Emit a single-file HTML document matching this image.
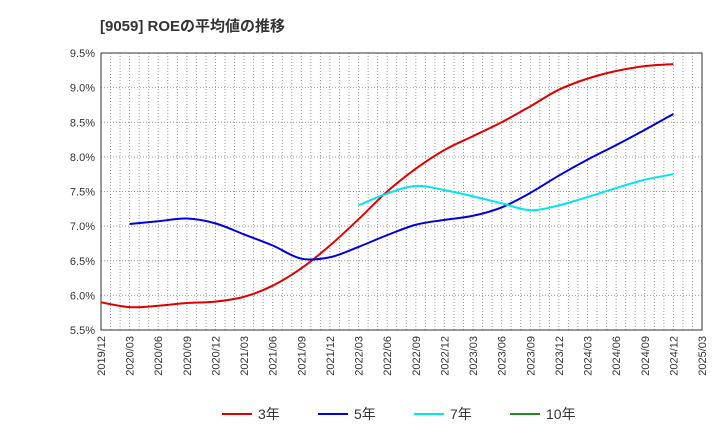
<!DOCTYPE html>
<html><head><meta charset="utf-8"><style>
body{margin:0;background:#fff;font-family:"Liberation Sans","Noto Sans CJK JP",sans-serif}
</style></head><body>
<svg id="c" width="720" height="440" xmlns="http://www.w3.org/2000/svg" font-family="Liberation Sans, Noto Sans CJK JP, sans-serif">
<text x="100" y="31" font-size="15" font-weight="bold" fill="#333">[9059]  ROEの平均値の推移</text>
</svg>
<script>
const xLabels=["2019/12","2020/03","2020/06","2020/09","2020/12","2021/03","2021/06","2021/09","2021/12","2022/03","2022/06","2022/09","2022/12","2023/03","2023/06","2023/09","2023/12","2024/03","2024/06","2024/09","2024/12","2025/03"];
const yTicks=[5.5,6.0,6.5,7.0,7.5,8.0,8.5,9.0,9.5];
const roe3=[5.9,5.83,5.85,5.89,5.91,5.98,6.14,6.39,6.72,7.1,7.5,7.83,8.1,8.3,8.5,8.73,8.97,9.13,9.24,9.31,9.34];
const roe5=[null,7.03,7.07,7.11,7.04,6.88,6.72,6.53,6.55,6.7,6.87,7.02,7.09,7.15,7.27,7.48,7.73,7.96,8.17,8.39,8.62];
const roe7=[null,null,null,null,null,null,null,null,null,7.3,7.47,7.58,7.52,7.43,7.33,7.23,7.3,7.42,7.55,7.67,7.75];
const svg=document.getElementById('c');const NS="http://www.w3.org/2000/svg";
const L=101,R=702,T=53,B=330;
const xs=i=>L+(R-L)*i/(xLabels.length-1);
const ys=v=>B-(v-5.5)/(9.5-5.5)*(B-T);
function mk(t,a,p){const e=document.createElementNS(NS,t);for(const k in a)e.setAttribute(k,a[k]);(p||svg).appendChild(e);return e;}
const g=mk('g',{});


for(let m=1;m<63;m++){const x=L+(R-L)*m/63;mk('line',{x1:x,x2:x,y1:T,y2:B,stroke:'#999','stroke-dasharray':'1,2','stroke-width':1},g);}
yTicks.forEach(v=>{const y=ys(v);if(v>5.5&&v<9.5)mk('line',{x1:L,x2:R,y1:y,y2:y,stroke:'#999','stroke-dasharray':'1,2'},g);
const t=mk('text',{x:L-6,y:y+4,'text-anchor':'end','font-size':11,fill:'#333'});t.textContent=v.toFixed(1)+'%';

});
const fr=mk('rect',{x:L,y:T,width:R-L,height:B-T,fill:'none',stroke:'#333'});


xLabels.forEach((s,i)=>{const x=xs(i);const t=mk('text',{x:x+4,y:B+6,'text-anchor':'end','font-size':11,fill:'#333',transform:`rotate(-90 ${x+4} ${B+6})`});t.textContent=s;

});
function path(arr){const p=[];arr.forEach((v,i)=>{if(v!=null)p.push([xs(i),ys(v)]);});
let d=`M${p[0][0]},${p[0][1]}`;for(let i=0;i<p.length-1;i++){const p0=p[i-1]||p[i],p1=p[i],p2=p[i+1],p3=p[i+2]||p2;
d+=`C${p1[0]+(p2[0]-p0[0])/6},${p1[1]+(p2[1]-p0[1])/6} ${p2[0]-(p3[0]-p1[0])/6},${p2[1]-(p3[1]-p1[1])/6} ${p2[0]},${p2[1]}`;}return d;}
[[roe3,'#e00000','line-3yr'],[roe5,'#0000dd','line-5yr'],[roe7,'#00e5ee','line-7yr']].forEach(([a,c,n])=>{const e=mk('path',{d:path(a),fill:'none',stroke:c,'stroke-width':2});

});
[['3年','#e00000',222],['5年','#0000dd',318],['7年','#00e5ee',414],['10年','#228b22',510]].forEach(([s,c,x])=>{const lg=mk('g',{});


mk('line',{x1:x,x2:x+30,y1:414,y2:414,stroke:c,'stroke-width':2},lg);const t=mk('text',{x:x+36,y:419,'font-size':14,fill:'#333'},lg);t.textContent=s;});
</script>
</body></html>
